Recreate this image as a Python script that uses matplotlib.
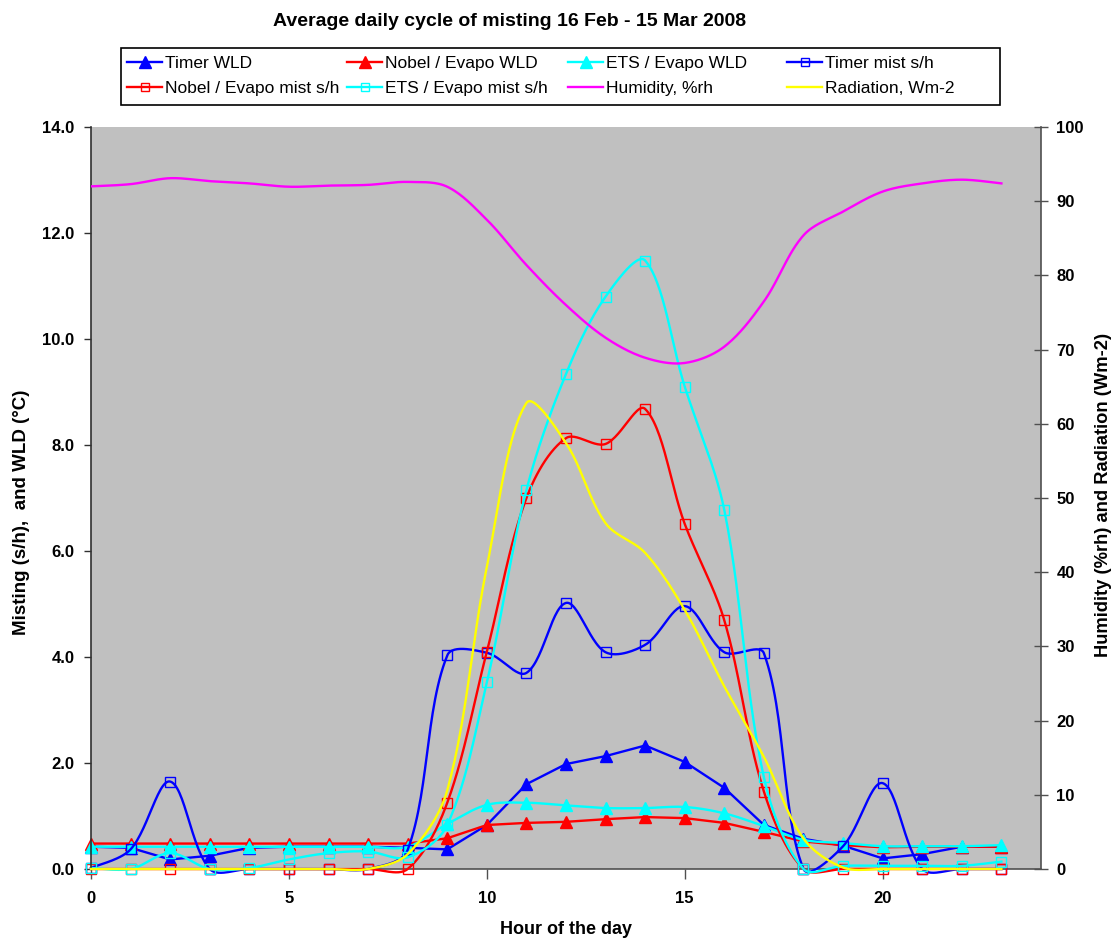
import numpy as np
import matplotlib
matplotlib.use("Agg")
import matplotlib.pyplot as plt
from matplotlib.lines import Line2D
from matplotlib.patches import Rectangle

plt.rcParams['font.family'] = ['Liberation Sans', 'DejaVu Sans']

# ---------------- data ----------------
hours = list(range(24))
timer_wld = [0.42, 0.40, 0.18, 0.25, 0.40, 0.42, 0.42, 0.42, 0.40, 0.37, 0.83, 1.60,
             1.98, 2.13, 2.33, 2.02, 1.53, 0.83, 0.57, 0.44, 0.20, 0.28, 0.42, 0.42]
nobel_wld = [0.48, 0.48, 0.48, 0.48, 0.48, 0.48, 0.48, 0.48, 0.48, 0.58, 0.83, 0.87,
             0.89, 0.94, 0.98, 0.96, 0.87, 0.70, 0.52, 0.45, 0.41, 0.42, 0.42, 0.42]
ets_wld = [0.42, 0.42, 0.42, 0.42, 0.42, 0.42, 0.42, 0.42, 0.42, 0.85, 1.21, 1.25,
           1.20, 1.15, 1.15, 1.17, 1.05, 0.81, 0.55, 0.49, 0.43, 0.43, 0.43, 0.45]
timer_mist = [0.02, 0.37, 1.65, 0.0, 0.0, 0.0, 0.0, 0.0, 0.36, 4.03, 4.08, 3.70,
              5.02, 4.09, 4.23, 4.96, 4.09, 4.07, 0.0, 0.43, 1.62, 0.0, 0.0, 0.0]
nobel_mist = [0.0, 0.0, 0.0, 0.0, 0.0, 0.0, 0.0, 0.0, 0.0, 1.25, 4.10, 7.00,
              8.13, 8.02, 8.68, 6.51, 4.69, 1.46, 0.0, 0.0, 0.0, 0.0, 0.0, 0.0]
ets_mist = [0.02, 0.0, 0.30, 0.0, 0.02, 0.18, 0.30, 0.33, 0.22, 0.83, 3.52, 7.15,
            9.34, 10.80, 11.48, 9.10, 6.77, 1.73, 0.0, 0.06, 0.06, 0.06, 0.06, 0.14]
humidity = [92.0, 92.3, 93.1, 92.7, 92.4, 91.95, 92.1, 92.2, 92.6, 91.95, 87.5, 81.4,
            76.0, 71.6, 68.9, 68.2, 70.4, 76.5, 85.4, 88.6, 91.3, 92.4, 92.9, 92.4]
radiation = [0.0, 0.0, 0.0, 0.0, 0.0, 0.0, 0.0, 0.0, 2.0, 10.6, 40.7, 62.8,
             57.4, 46.6, 42.6, 34.9, 24.6, 15.1, 4.1, 0.2, 0.0, 0.0, 0.0, 0.0]

title = "Average daily cycle of misting 16 Feb - 15 Mar 2008"
left_label = "Misting (s/h),  and WLD (\u00b0C)"
right_label = "Humidity (%rh) and Radiation (Wm-2)"
x_label = "Hour of the day"
left_ticks = [0, 2, 4, 6, 8, 10, 12, 14]
right_ticks = [0, 10, 20, 30, 40, 50, 60, 70, 80, 90, 100]
x_ticks = [0, 5, 10, 15, 20]

W, H = 1116, 942
L, R, T, B = 91, 1041, 127, 869
XMAX, Y1MAX, Y2MAX = 24, 14, 100


def smooth(x, y, ymax, n=30):
    """Excel-like smoothed line: Bezier with chord-length scaled tangents (pixel space)."""
    sx = (R - L) / XMAX
    sy = (B - T) / ymax
    P = np.column_stack([np.asarray(x, float) * sx, np.asarray(y, float) * sy])
    N = len(P)
    d = np.hypot(*(P[1:] - P[:-1]).T)
    t = np.linspace(0, 1, n)[:, None]
    out = []
    for i in range(N - 1):
        b0, b3 = P[i], P[i + 1]
        if i > 0:
            T0 = P[i + 1] - P[i - 1]
            f0 = d[i] / (d[i - 1] + d[i]) / 3.0
        else:
            T0 = P[i + 1] - P[i]
            f0 = 1 / 3.0 / 2
        if i + 2 < N:
            T1 = P[i + 2] - P[i]
            f1 = d[i] / (d[i] + d[i + 1]) / 3.0
        else:
            T1 = P[i + 1] - P[i]
            f1 = 1 / 3.0 / 2
        b1 = b0 + T0 * f0
        b2 = b3 - T1 * f1
        seg = ((1 - t) ** 3) * b0 + 3 * ((1 - t) ** 2) * t * b1 + 3 * (1 - t) * t ** 2 * b2 + t ** 3 * b3
        if i > 0:
            seg = seg[1:]
        out.append(seg)
    out = np.vstack(out)
    return out[:, 0] / sx, out[:, 1] / sy


fig = plt.figure(figsize=(W / 100, H / 100), dpi=100)
fig.patch.set_facecolor('white')
ax = fig.add_axes([L / W, 1 - B / H, (R - L) / W, (B - T) / H])
ax.set_facecolor('#C0C0C0')
ax2 = ax.twinx()

BLUE, RED, CYAN, MAG, YEL = '#0000FF', '#FF0000', '#00FFFF', '#FF00FF', '#FFFF00'
lw = 1.7

series = [
    (timer_wld, BLUE, '^', True, False, 'Timer WLD'),
    (nobel_wld, RED, '^', True, False, 'Nobel / Evapo WLD'),
    (ets_wld, CYAN, '^', True, True, 'ETS / Evapo WLD'),
    (timer_mist, BLUE, 's', False, True, 'Timer mist s/h'),
    (nobel_mist, RED, 's', False, True, 'Nobel / Evapo mist s/h'),
    (ets_mist, CYAN, 's', False, True, 'ETS / Evapo mist s/h'),
]
handles = {}
for vals, col, mk, filled, sm, name in series:
    if sm:
        xs, ys = smooth(hours, vals, Y1MAX)
    else:
        xs, ys = hours, vals
    ax.plot(xs, ys, color=col, lw=lw, clip_on=False)
    if filled:
        ax.plot(hours, vals, ls='none', marker=mk, ms=8, color=col, mec=col, mfc=col, clip_on=False)
        handles[name] = Line2D([], [], color=col, lw=lw, marker=mk, ms=8, mfc=col, mec=col)
    else:
        ax.plot(hours, vals, ls='none', marker=mk, ms=7.5, mfc='none', mec=col, mew=1.0, clip_on=False)
        handles[name] = Line2D([], [], color=col, lw=lw, marker=mk, ms=6, mfc='none', mec=col, mew=1.0)

hx, hy = smooth(hours, humidity, Y2MAX)
ax2.plot(hx, hy, color=MAG, lw=lw)
rx, ry = smooth(hours, radiation, Y2MAX)
ax2.plot(rx, ry, color=YEL, lw=lw, clip_on=False)
handles['Humidity, %rh'] = Line2D([], [], color=MAG, lw=lw)
handles['Radiation, Wm-2'] = Line2D([], [], color=YEL, lw=lw)

ax.set_xlim(0, XMAX)
ax.set_ylim(0, Y1MAX)
ax2.set_ylim(0, Y2MAX)
ax.set_xticks(x_ticks)
ax.set_xticklabels([str(v) for v in x_ticks])
ax.set_yticks(left_ticks)
ax.set_yticklabels([f"{v:.1f}" for v in left_ticks])
ax2.set_yticks(right_ticks)
ax2.set_yticklabels([str(v) for v in right_ticks])

for a in (ax, ax2):
    a.spines['top'].set_visible(False)
ax.spines['right'].set_visible(False)
ax2.spines['left'].set_visible(False)
ax2.spines['bottom'].set_visible(False)
ax.spines['left'].set_color('#303030')
ax.spines['bottom'].set_color('#505050')
ax2.spines['right'].set_color('#505050')
for s in ('left', 'bottom'):
    ax.spines[s].set_linewidth(1.2)
ax2.spines['right'].set_linewidth(1.2)
ax.spines['bottom'].set_zorder(0.5)

ax.tick_params(axis='y', direction='out', length=5, width=1, pad=7, labelsize=12, color='#303030')
ax.tick_params(axis='x', direction='out', length=7, width=1, pad=9, labelsize=12, color='#505050')
ax2.tick_params(axis='y', direction='inout', length=10, width=1, pad=6, labelsize=12, color='#505050')
for lab in ax.get_xticklabels() + ax.get_yticklabels() + ax2.get_yticklabels():
    lab.set_fontweight('bold')

fig.text(510 / W, 1 - 22 / H, title, ha='center', va='center', fontsize=14, fontweight='bold')
fig.text(22 / W, 1 - 512 / H, left_label, ha='center', va='center', rotation=90, fontsize=13.5, fontweight='bold')
fig.text(1103 / W, 1 - 495 / H, right_label, ha='center', va='center', rotation=90, fontsize=13.2, fontweight='bold')
fig.text(566 / W, 1 - 930 / H, x_label, ha='center', va='center', fontsize=13, fontweight='bold')

# legend: box + four columns
box = Rectangle((121 / W, 1 - 105 / H), (1000 - 121) / W, (105 - 48) / H, transform=fig.transFigure,
                facecolor='white', edgecolor='black', lw=1.2, zorder=1)
fig.patches.append(box)
cols = [['Timer WLD', 'Nobel / Evapo mist s/h'],
        ['Nobel / Evapo WLD', 'ETS / Evapo mist s/h'],
        ['ETS / Evapo WLD', 'Humidity, %rh'],
        ['Timer mist s/h', 'Radiation, Wm-2']]
col_x = [124, 344, 565, 784]
for cx, names in zip(col_x, cols):
    lg = fig.legend([handles[n] for n in names], names, loc='upper left',
                    bbox_to_anchor=(cx / W, 1 - 52 / H), bbox_transform=fig.transFigure,
                    frameon=False, fontsize=12.5, handlelength=2.0, handletextpad=0.15,
                    labelspacing=0.6, borderpad=0.2, borderaxespad=0)
    lg.set_zorder(3)

fig.savefig('out.png', dpi=100)
